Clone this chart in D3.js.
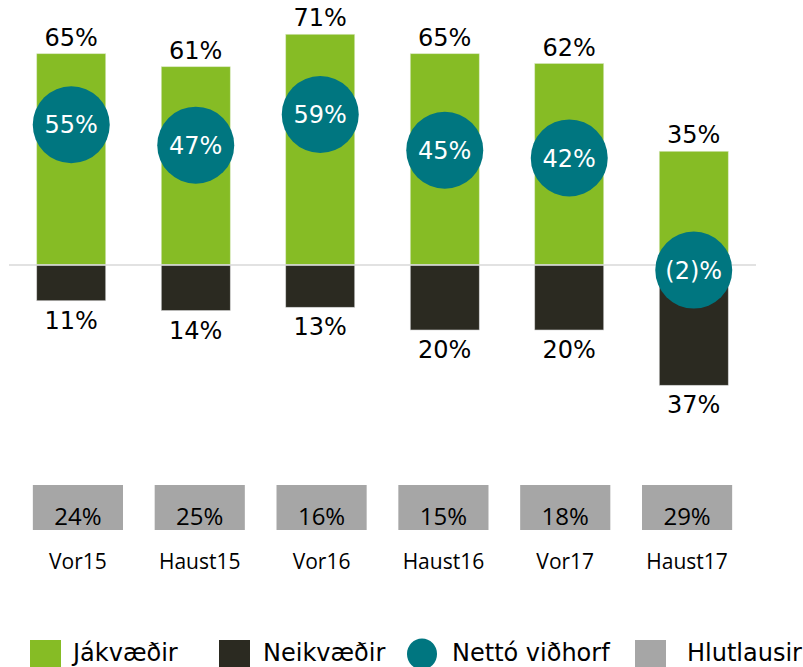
<!DOCTYPE html>
<html>
<head>
<meta charset="utf-8">
<title>Jákvæðir / Neikvæðir</title>
<script src="https://cdn.jsdelivr.net/npm/d3@7"></script>
<style>
  body { margin: 0; background: #fff; }
  svg { display: block; }
  .lbl { font-family: "DejaVu Sans", Verdana, sans-serif; font-size: 24px; fill: #000; }
  .low { font-family: "Open Sans", "Noto Sans", sans-serif; fill: #000; }
</style>
</head>
<body>
<script>
// data
var periods   = ["Vor15", "Haust15", "Vor16", "Haust16", "Vor17", "Haust17"];
var positive  = [65, 61, 71, 65, 62, 35];   // Jákvæðir
var negative  = [11, 14, 13, 20, 20, 37];   // Neikvæðir
var net       = [55, 47, 59, 45, 42, -2];   // Nettó viðhorf
var neutral   = [24, 25, 16, 15, 18, 29];   // Hlutlausir
var legendNames = ["Jákvæðir", "Neikvæðir", "Nettó viðhorf", "Hlutlausir"];

var width = 803, height = 667;
var green = "#86bc25", dark = "#2b2a21", teal = "#007680", grey = "#a6a6a6";

var svg = d3.select("body").append("svg")
    .attr("width", width)
    .attr("height", height);

// scales
var x = d3.scaleBand().domain(periods).range([9, 756])
    .paddingInner(0.446).paddingOuter(0.223);
var yBar = d3.scaleLinear().domain([-40, 80]).range([395, 5]);
var yNet = d3.scaleLinear().domain([-40, 80]).range([367, 61]);
// the neutral row sits on its own band scale
var xLow = d3.scaleBand().domain(periods).range([17, 748])
    .paddingInner(0.26).paddingOuter(0.13);

var fmt = function(v) { return v < 0 ? "(" + Math.abs(v) + ")%" : v + "%"; };

// positive bars
svg.append("g").selectAll("rect")
  .data(periods)
  .join("rect")
    .attr("x", d => x(d))
    .attr("y", (d, i) => yBar(positive[i]))
    .attr("width", x.bandwidth())
    .attr("height", (d, i) => yBar(0) - yBar(positive[i]))
    .attr("fill", green)
    .attr("stroke", "#d8e8c0").attr("stroke-width", 0.6);

// negative bars
svg.append("g").selectAll("rect")
  .data(periods)
  .join("rect")
    .attr("x", d => x(d))
    .attr("y", yBar(0))
    .attr("width", x.bandwidth())
    .attr("height", (d, i) => yBar(-negative[i]) - yBar(0))
    .attr("fill", dark)
    .attr("stroke", "#cfcfcf").attr("stroke-width", 0.6);

// zero line
svg.append("line")
    .attr("x1", x.range()[0]).attr("x2", x.range()[1])
    .attr("y1", yBar(0)).attr("y2", yBar(0))
    .attr("stroke", "#d9d9d9").attr("stroke-width", 1.5);

// value labels above / below bars
svg.append("g").selectAll("text")
  .data(periods)
  .join("text")
    .attr("class", "lbl")
    .attr("x", d => x(d) + x.bandwidth() / 2)
    .attr("y", (d, i) => yBar(positive[i]) - 8)
    .attr("text-anchor", "middle")
    .text((d, i) => positive[i] + "%");

svg.append("g").selectAll("text")
  .data(periods)
  .join("text")
    .attr("class", "lbl")
    .attr("x", d => x(d) + x.bandwidth() / 2)
    .attr("y", (d, i) => yBar(-negative[i]) + 28)
    .attr("text-anchor", "middle")
    .text((d, i) => negative[i] + "%");

// net circles
var nets = svg.append("g").selectAll("g")
  .data(periods)
  .join("g")
    .attr("transform", (d, i) => `translate(${x(d) + x.bandwidth() / 2},${yNet(net[i])})`);

nets.append("circle").attr("r", 38.5).attr("fill", teal);
nets.append("text")
    .attr("class", "lbl")
    .attr("text-anchor", "middle")
    .attr("dy", "0.36em")
    .style("fill", "#fff")
    .text((d, i) => fmt(net[i]));

// neutral boxes
var low = svg.append("g").selectAll("g")
  .data(periods)
  .join("g")
    .attr("transform", d => `translate(${xLow(d)},0)`);

low.append("rect")
    .attr("y", 485)
    .attr("width", xLow.bandwidth())
    .attr("height", 45)
    .attr("fill", grey);

low.append("text")
    .attr("class", "low")
    .attr("x", xLow.bandwidth() / 2)
    .attr("y", 525)
    .attr("text-anchor", "middle")
    .style("font-size", "24px")
    .text((d, i) => neutral[i] + "%");

low.append("text")
    .attr("class", "low")
    .attr("x", xLow.bandwidth() / 2)
    .attr("y", 569)
    .attr("text-anchor", "middle")
    .style("font-size", "21px")
    .text(d => d);

// legend
var legendX = [30, 219, 407, 635];
var legendGap = [43, 44, 45, 52];
var legendColor = [green, dark, teal, grey];
var leg = svg.append("g").selectAll("g")
  .data(legendNames)
  .join("g")
    .attr("transform", (d, i) => `translate(${legendX[i]},640)`);

leg.each(function(d, i) {
  var g = d3.select(this);
  if (i == 2) {
    g.append("ellipse").attr("cx", 15).attr("cy", 14).attr("rx", 15).attr("ry", 15.5).attr("fill", legendColor[i]);
  } else {
    g.append("rect").attr("width", 31).attr("height", 30).attr("fill", legendColor[i]);
  }
  g.append("text")
    .attr("class", "lbl")
    .attr("x", legendGap[i])
    .attr("y", 21)
    .text(d);
});
</script>
</body>
</html>
